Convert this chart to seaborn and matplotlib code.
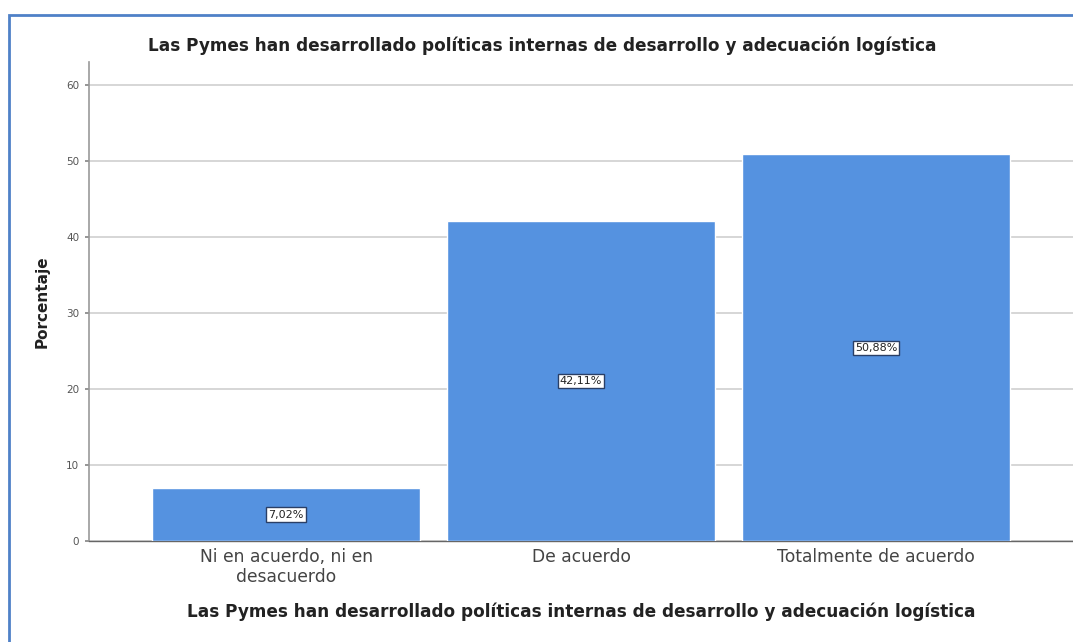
import matplotlib
matplotlib.use("Agg")
import matplotlib.pyplot as plt
import seaborn as sns
import pandas as pd
from matplotlib.patches import Rectangle

categories = ["Ni en acuerdo, ni en\ndesacuerdo", "De acuerdo", "Totalmente de acuerdo"]
values = [7.02, 42.11, 50.88]
labels = ["7,02%", "42,11%", "50,88%"]
yticks = [0, 10, 20, 30, 40, 50, 60]
title = "Las Pymes han desarrollado políticas internas de desarrollo y adecuación logística"

sns.set_theme(style="white")
plt.rcParams['font.family'] = ['DejaVu Sans']

df = pd.DataFrame({"cat": categories, "val": values})

fig = plt.figure(figsize=(10.73, 6.42), dpi=100)
ax = fig.add_axes([0.083, 0.157, 0.917, 0.746])

sns.barplot(data=df, x="cat", y="val", color="#5592E0", saturation=1, width=0.91,
            ax=ax, zorder=3)

ax.set_xlim(-0.668, 2.668)
ax.set_ylim(0, 63)
ax.set_yticks(yticks)
ax.set_yticklabels([str(t) for t in yticks], fontsize=7.5, color="#555555")
ax.tick_params(axis="y", length=3, color="#888888", left=True, pad=4)
ax.tick_params(axis="x", length=0, labelsize=12.3, labelcolor="#444444", pad=5)
for lbl in ax.get_xticklabels():
    lbl.set_linespacing(1.15)

ax.grid(axis="y", color="#D6D6D6", linewidth=1.4, zorder=0)
ax.set_axisbelow(True)
for s in ["top", "right"]:
    ax.spines[s].set_visible(False)
ax.spines["left"].set_color("#999999")
ax.spines["left"].set_linewidth(1.2)
ax.spines["bottom"].set_color("#666666")
ax.spines["bottom"].set_linewidth(1.0)

for i, (v, l) in enumerate(zip(values, labels)):
    ax.text(i, v / 2, l, ha="center", va="center", fontsize=8, color="#222222",
            zorder=5,
            bbox=dict(boxstyle="square,pad=0.2", facecolor="white",
                      edgecolor="#2A3F66", linewidth=1.0))

ax.set_ylabel("Porcentaje", fontsize=11, fontweight="bold", color="#222222", labelpad=12)
ax.set_xlabel(title, fontsize=12.2, fontweight="bold", color="#222222", labelpad=12)
fig.text(0.505, 0.929, title, ha="center", va="center", fontsize=12.2,
         fontweight="bold", color="#222222")

fig.patches.append(Rectangle((9 / 1073, -0.1), 1.2, 1 - 15 / 642 + 0.1,
                             transform=fig.transFigure, fill=False,
                             edgecolor="#4F81C7", linewidth=2.0))

fig.savefig("out.png", dpi=100)
